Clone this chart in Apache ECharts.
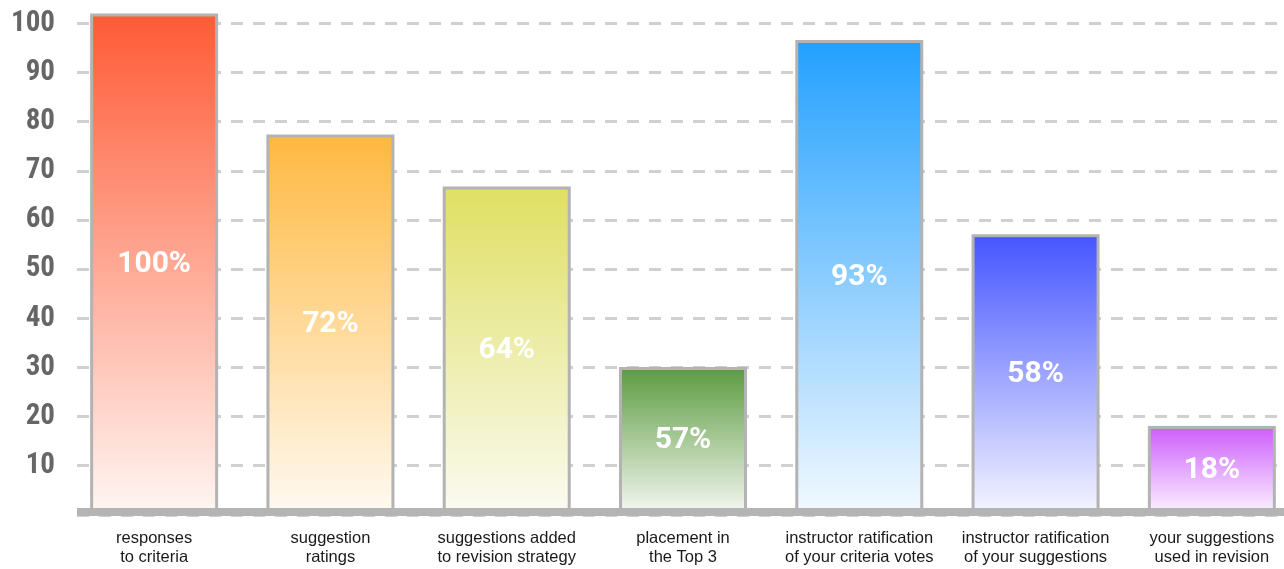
<!DOCTYPE html>
<html>
<head>
<meta charset="utf-8">
<script src="https://cdn.jsdelivr.net/npm/echarts@6/dist/echarts.min.js"></script>
<style>
html,body{margin:0;padding:0;background:#fff;}
#chart{width:1284px;height:569px;}
</style>
</head>
<body>
<div id="chart"></div>
<script>
// ---- data ----
const categories = [
  'responses\nto criteria',
  'suggestion\nratings',
  'suggestions added\nto revision strategy',
  'placement in\nthe Top 3',
  'instructor ratification\nof your criteria votes',
  'instructor ratification\nof your suggestions',
  'your suggestions\nused in revision'
];
const barHeights = [102, 77.4, 66.8, 30.1, 96.6, 57.1, 18.1];
const percentLabels = ['100%', '72%', '64%', '57%', '93%', '58%', '18%'];
const yTickLabels = ['10', '20', '30', '40', '50', '60', '70', '80', '90', '100'];

// ---- styles ----
const topColors = ['#ff5a35', '#ffb840', '#dfdf62', '#5b9b3f', '#22a0ff', '#4455ff', '#cc5cfb'];
const bottomColors = ['#fff6f3', '#fffaf2', '#fbfbf3', '#f6f8f4', '#f3f9ff', '#f6f6ff', '#fdf6ff'];

const chart = echarts.init(document.getElementById('chart'), null, {renderer: 'canvas'});

const barData = barHeights.map((v, i) => ({
  value: v,
  itemStyle: {
    color: new echarts.graphic.LinearGradient(0, 0, 0, 1, [
      {offset: 0, color: topColors[i]},
      {offset: 1, color: bottomColors[i]}
    ])
  }
}));

const option = {
  animation: false,
  backgroundColor: '#ffffff',
  grid: [
    {left: 66, width: 1234, top: 23.3, bottom: 54.1, outerBoundsMode: 'none', containLabel: false},
    {left: 77, right: 0, top: 23.3, bottom: 54.1, outerBoundsMode: 'none', containLabel: false}
  ],
  xAxis: [
    {
      type: 'category',
      gridIndex: 0,
      data: categories,
      axisLine: {show: false},
      axisTick: {show: false},
      splitLine: {show: false},
      axisLabel: {
        interval: 0,
        margin: 14,
        color: '#1a1a1a',
        fontSize: 16.5,
        lineHeight: 19,
        fontFamily: "'Liberation Sans', Arial, sans-serif"
      }
    },
    {
      type: 'value',
      gridIndex: 1,
      min: 0, max: 1,
      z: 10,
      offset: -3,
      axisLine: {show: true, onZero: false, lineStyle: {color: '#b4b4b4', width: 8, cap: 'butt'}},
      axisTick: {show: false},
      axisLabel: {show: false},
      splitLine: {show: false}
    }
  ],
  yAxis: [
    {
      type: 'value',
      gridIndex: 0,
      min: 0, max: 100,
      show: false
    },
    {
      type: 'value',
      gridIndex: 1,
      min: 0, max: 100, interval: 10,
      axisLine: {show: false},
      axisTick: {show: false},
      axisLabel: {
        margin: 22,
        color: '#666666',
        fontSize: 29,
        fontWeight: 'bold',
        fontFamily: "'Liberation Sans Narrow', 'Roboto Condensed', Roboto, sans-serif",
        formatter: function (v) {
          const idx = Math.round(v / 10) - 1;
          return idx >= 0 && idx < yTickLabels.length ? yTickLabels[idx] : '';
        }
      },
      splitLine: {
        show: true,
        lineStyle: {color: '#d0d0d0', width: 3, type: [12, 10]}
      }
    }
  ],
  series: [
    {
      type: 'bar',
      xAxisIndex: 0,
      yAxisIndex: 0,
      data: barData,
      barWidth: 128,
      clip: false,
      itemStyle: {borderColor: '#b3b3b3', borderWidth: 3},
      label: {
        show: true,
        position: 'inside',
        color: '#ffffff',
        fontSize: 30,
        fontWeight: 'bold',
        fontFamily: 'Roboto, Arial, sans-serif',
        formatter: function (p) { return percentLabels[p.dataIndex]; }
      }
    }
  ]
};
chart.setOption(option);
</script>
</body>
</html>
